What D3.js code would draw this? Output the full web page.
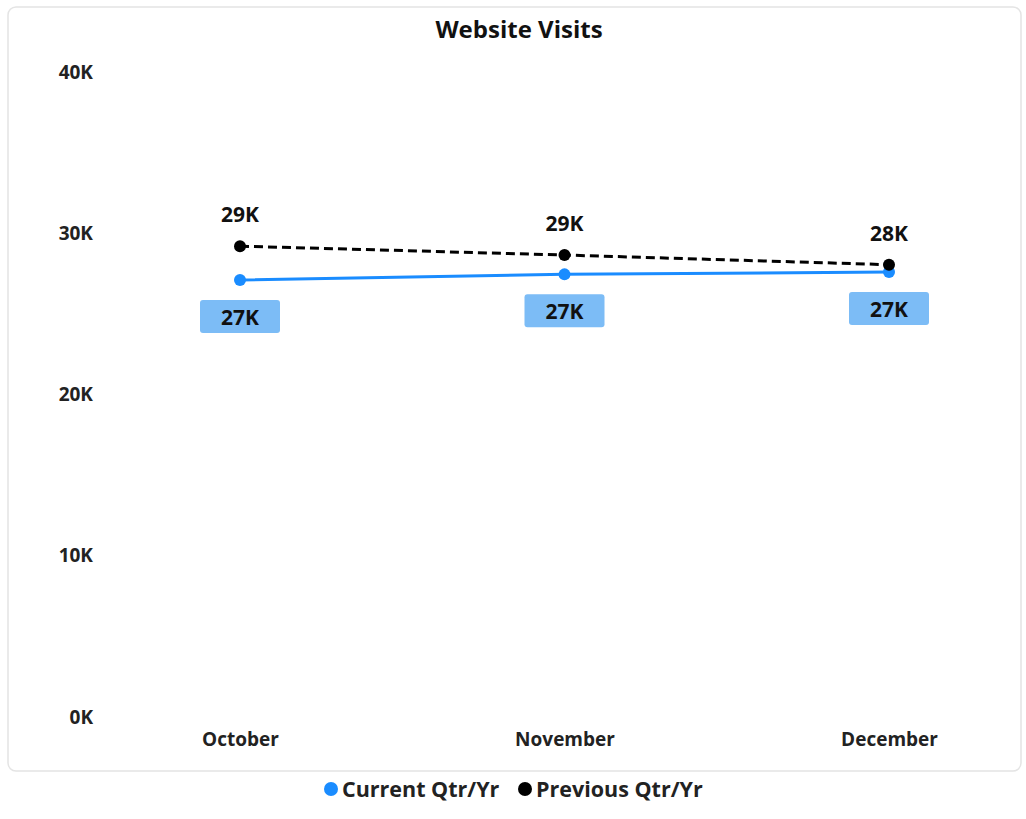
<!DOCTYPE html>
<html><head><meta charset="utf-8">
<script src="https://cdn.jsdelivr.net/npm/d3@7"></script>
<style>
html,body{margin:0;padding:0;background:#fff;}
svg{display:block;font-family:"Open Sans","Noto Sans",sans-serif;}
</style></head>
<body>
<svg id="chart" width="1026" height="819"></svg>
<script>
const title = "Website Visits";
const months = ["October", "November", "December"];
const currentValues = [27100, 27450, 27600];
const previousValues = [29200, 28650, 28050];
const currentLabels = ["27K", "27K", "27K"];
const previousLabels = ["29K", "29K", "28K"];
const yTicks = [0, 10000, 20000, 30000, 40000];
const seriesNames = ["Current Qtr/Yr", "Previous Qtr/Yr"];

const svg = d3.select("#chart");
const blue = "#1a8cff", black = "#000";

// card
svg.append("rect").attr("x", 8).attr("y", 7).attr("width", 1013).attr("height", 764)
  .attr("rx", 8).attr("fill", "#fff").attr("stroke", "#e4e4e4").attr("stroke-width", 1.5);

svg.append("text").attr("x", 519).attr("y", 38).attr("text-anchor", "middle")
  .attr("font-size", 24).attr("font-weight", 700).attr("fill", "#111").text(title);

const x = d3.scalePoint().domain(months).range([240, 889]);
const y = d3.scaleLinear().domain([0, 40000]).range([717, 72]);

const yAxis = d3.axisLeft(y).tickValues(yTicks).tickSize(0).tickPadding(0)
  .tickFormat(d => (d / 1000) + "K");
const gy = svg.append("g").attr("transform", "translate(93,0)").call(yAxis);
gy.select(".domain").remove();
gy.selectAll("text").attr("font-size", 19).attr("font-weight", 700).attr("fill", "#222")
  .attr("font-family", "Open Sans, sans-serif");

const xAxis = d3.axisBottom(x).tickSize(0).tickPadding(0);
const gx = svg.append("g").attr("transform", "translate(0,732)").call(xAxis);
gx.select(".domain").remove();
gx.selectAll("text").attr("font-size", 19).attr("font-weight", 700).attr("fill", "#222")
  .attr("font-family", "Open Sans, sans-serif");

const line = d3.line().x((d, i) => x(months[i])).y(d => y(d));

svg.append("path").datum(currentValues).attr("d", line).attr("fill", "none")
  .attr("stroke", blue).attr("stroke-width", 3);
svg.append("path").datum(previousValues).attr("d", line).attr("fill", "none")
  .attr("stroke", black).attr("stroke-width", 3).attr("stroke-dasharray", "9,5");

svg.selectAll(".cdot").data(currentValues).join("circle")
  .attr("cx", (d, i) => x(months[i])).attr("cy", d => y(d)).attr("r", 6).attr("fill", blue);
svg.selectAll(".pdot").data(previousValues).join("circle")
  .attr("cx", (d, i) => x(months[i])).attr("cy", d => y(d)).attr("r", 6).attr("fill", black);

// previous labels
svg.selectAll(".plab").data(previousValues).join("text")
  .attr("x", (d, i) => x(months[i])).attr("y", d => y(d) - 24)
  .attr("text-anchor", "middle").attr("font-size", 21).attr("font-weight", 700).attr("fill", "#111")
  .text((d, i) => previousLabels[i]);

// current labels with background
const cl = svg.selectAll(".clab").data(currentValues).join("g")
  .attr("transform", (d, i) => `translate(${x(months[i])},${y(d) + 37})`);
cl.append("rect").attr("x", -40).attr("y", -17).attr("width", 80).attr("height", 33).attr("rx", 3)
  .attr("fill", "#7cbcf6");
cl.append("text").attr("y", 8).attr("text-anchor", "middle").attr("font-size", 21)
  .attr("font-weight", 700).attr("fill", "#111").text((d, i) => currentLabels[i]);

// legend
const legend = [{name: seriesNames[0], color: blue, x: 331}, {name: seriesNames[1], color: black, x: 525}];
const lg = svg.selectAll(".leg").data(legend).join("g")
  .attr("transform", d => `translate(${d.x},789)`);
lg.append("circle").attr("r", 7).attr("fill", d => d.color);
lg.append("text").attr("x", 11).attr("y", 8).attr("font-size", 21.5).attr("font-weight", 700)
  .attr("fill", "#222").text(d => d.name);
</script>
</body></html>
